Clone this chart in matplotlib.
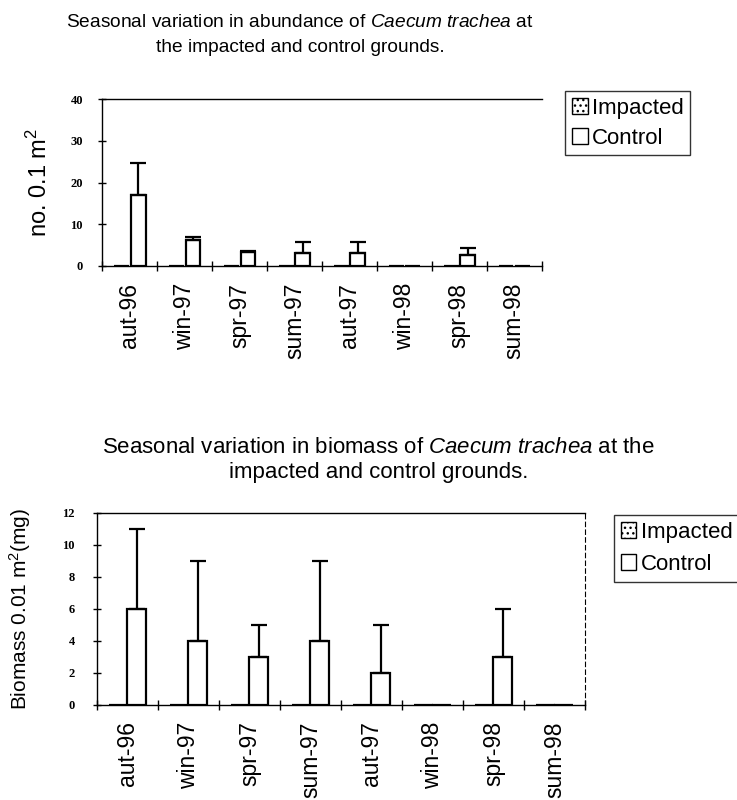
import matplotlib
matplotlib.use('Agg')
import matplotlib.pyplot as plt
import numpy as np
from matplotlib.patches import Patch

plt.rcParams['font.family'] = ['Liberation Sans', 'DejaVu Sans']
plt.rcParams['mathtext.fontset'] = 'custom'
plt.rcParams['mathtext.rm'] = 'Liberation Sans'
plt.rcParams['mathtext.it'] = 'Liberation Sans:italic'

#%% Data

seasons = ['aut-96', 'win-97', 'spr-97', 'sum-97', 'aut-97', 'win-98', 'spr-98', 'sum-98']

# abundance, no. 0.1 m^2
abund_impacted = [0, 0, 0, 0, 0, 0, 0, 0]
abund_control = [16.9, 6.2, 3.3, 3.0, 3.1, 0, 2.6, 0]
abund_control_err = [7.8, 0.8, 0.2, 2.7, 2.6, 0, 1.7, 0]

# biomass, 0.01 m^2 (mg)
bio_impacted = [0, 0, 0, 0, 0, 0, 0, 0]
bio_control = [6, 4, 3, 4, 2, 0, 3, 0]
bio_control_err = [5, 5, 2, 5, 3, 0, 3, 0]

#%% Figure

fig = plt.figure(figsize=(7.37, 8.0), dpi=100)
ax1 = fig.add_axes([0.139, 0.6675, 0.596, 0.2087])
ax2 = fig.add_axes([0.1316, 0.119, 0.6624, 0.240])

x = np.arange(len(seasons))
off = 0.15


def draw(ax, imp, ctl, err, ymax, ystep, ylabel, bar_w, ypad, ylsize):
    ax.bar(x - off, imp, bar_w, color='white', edgecolor='black', linewidth=1.6,
           hatch='...', zorder=2)
    ax.bar(x + off, ctl, bar_w, color='white', edgecolor='black', linewidth=1.6,
           zorder=2)
    lo = np.zeros(len(err))
    hi = np.array(err)
    m = hi > 0
    ax.errorbar((x + off)[m], np.array(ctl)[m], yerr=[lo[m], hi[m]], fmt='none',
                ecolor='black', elinewidth=1.6, capsize=6, capthick=1.6, zorder=3)
    ax.set_xlim(-0.5, len(seasons) - 0.5)
    ax.set_ylim(0, ymax)
    yt = np.arange(0, ymax + 0.1, ystep)
    ax.set_yticks(yt)
    ax.set_yticklabels([str(int(v)) for v in yt],
                       family='Liberation Serif', fontsize=9, fontweight='bold')
    ax.set_xticks(np.arange(len(seasons) + 1) - 0.5)
    ax.set_xticklabels([])
    ax.set_xticks(x, minor=True)
    ax.set_xticklabels(seasons, minor=True, rotation=90, fontsize=16.5)
    ax.tick_params(axis='x', which='minor', length=0, pad=12)
    ax.tick_params(axis='x', which='major', direction='inout', length=7, width=1)
    ax.tick_params(axis='y', direction='inout', length=6, width=1, pad=ypad)
    ax.set_ylabel(ylabel, fontsize=ylsize)
    for s in ax.spines.values():
        s.set_linewidth(1)


draw(ax1, abund_impacted, abund_control, abund_control_err, 40, 10,
     'no. 0.1 m$^2$', 0.27, 11, 17)
ax1.spines['right'].set_visible(False)
ax1.yaxis.set_label_coords(-0.114, 0.5)

draw(ax2, bio_impacted, bio_control, bio_control_err, 12, 2,
     'Biomass 0.01 m$^2$(mg)', 0.31, 13, 15)
ax2.spines['right'].set_linestyle((0, (4, 3)))
ax2.spines['right'].set_linewidth(0.8)
ax2.yaxis.set_label_coords(-0.131, 0.5)

fig.text(0.407, 0.972, 'Seasonal variation in abundance of $\\it{Caecum\\ trachea}$ at',
         ha='center', va='center', fontsize=13.8)
fig.text(0.407, 0.941, 'the impacted and control grounds.',
         ha='center', va='center', fontsize=13.8)
fig.text(0.514, 0.441, 'Seasonal variation in biomass of $\\it{Caecum\\ trachea}$ at the',
         ha='center', va='center', fontsize=16)
fig.text(0.514, 0.409, 'impacted and control grounds.',
         ha='center', va='center', fontsize=16)

handles = [Patch(facecolor='white', edgecolor='black', hatch='...', label='Impacted'),
           Patch(facecolor='white', edgecolor='black', label='Control')]

fig.legend(handles=handles, loc='upper left', bbox_to_anchor=(0.752, 0.90),
           fontsize=16, frameon=True, fancybox=False, edgecolor='black',
           handlelength=0.7, handleheight=0.7, handletextpad=0.2,
           borderpad=0.3, labelspacing=0.4)
fig.legend(handles=handles, loc='upper left', bbox_to_anchor=(0.818, 0.37),
           fontsize=16, frameon=True, fancybox=False, edgecolor='black',
           handlelength=0.7, handleheight=0.7, handletextpad=0.2,
           borderpad=0.3, labelspacing=0.5)

fig.savefig('out.png', dpi=100)
